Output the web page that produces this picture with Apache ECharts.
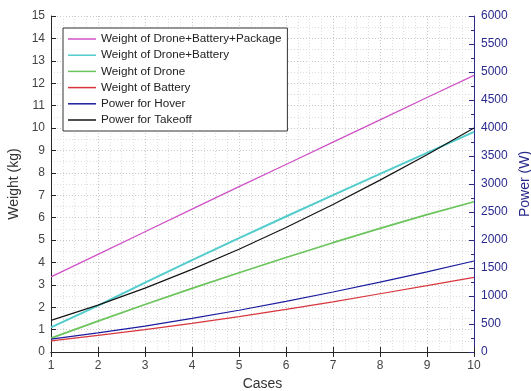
<!DOCTYPE html>
<html>
<head>
<meta charset="utf-8">
<script src="https://cdn.jsdelivr.net/npm/echarts@6/dist/echarts.min.js"></script>
<style>
  html, body { margin: 0; padding: 0; background: #fff; }
  #main { width: 531px; height: 391px; }
</style>
</head>
<body>
<div id="main"></div>
<script>
// x values (cases)
const cases = [1, 2, 3, 4, 5, 6, 7, 8, 9, 10];

// weights in kg (left axis)
const totalWeight = [3.35, 4.36, 5.37, 6.38, 7.38, 8.37, 9.37, 10.36, 11.36, 12.35];
const droneBatteryWeight = [1.1, 2.07, 3.1, 4.1, 5.08, 6.05, 7.0, 7.95, 8.89, 9.83];
const droneWeight = [0.62, 1.38, 2.12, 2.84, 3.54, 4.22, 4.88, 5.52, 6.13, 6.71];
const batteryWeight = [0.5, 0.74, 1.0, 1.28, 1.58, 1.9, 2.24, 2.6, 2.96, 3.33];

// power in W (right axis)
const hoverPower = [230, 340, 463, 599, 746, 903, 1071, 1247, 1432, 1625];
const takeoffPower = [565, 836, 1140, 1475, 1836, 2224, 2635, 3069, 3524, 4000];

const seriesNames = [
  'Weight of Drone+Battery+Package',
  'Weight of Drone+Battery',
  'Weight of Drone',
  'Weight of Battery',
  'Power for Hover',
  'Power for Takeoff'
];

var myChart = echarts.init(document.getElementById('main'));

const font = 'Liberation Sans, Arial, sans-serif';
const pairs = arr => cases.map((c, i) => [c, arr[i]]);

function line(name, data, color, width, axis) {
  return {
    name: name,
    type: 'line',
    yAxisIndex: axis,
    data: pairs(data),
    showSymbol: false,
    symbol: 'none',
    color: color,
    lineStyle: { color: color, width: width },
    emphasis: { disabled: true },
    z: 3
  };
}

myChart.setOption({
  animation: false,
  grid: { left: 51, right: 57, top: 16, bottom: 39, outerBoundsMode: 'none', containLabel: false },
  legend: {
    orient: 'vertical',
    left: 63,
    top: 28,
    padding: [4, 6, 4, 5],
    backgroundColor: '#fff',
    borderColor: '#333',
    borderWidth: 1,
    borderRadius: 0,
    icon: 'rect',
    itemWidth: 28,
    itemHeight: 1.5,
    itemGap: 2.2,
    textStyle: { fontFamily: font, fontSize: 11.7, color: '#222', lineHeight: 14 },
    data: seriesNames
  },
  xAxis: [{
    type: 'value',
    min: 1, max: 10, interval: 1,
    name: 'Cases',
    nameLocation: 'middle',
    nameGap: 21,
    nameTextStyle: { fontFamily: font, fontSize: 14, color: '#333' },
    axisLine: { show: true, lineStyle: { color: '#262626', width: 1 } },
    axisTick: { show: true, inside: true, length: 5, lineStyle: { color: '#262626' } },
    axisLabel: { fontFamily: font, fontSize: 12, color: '#444', margin: 8 },
    splitLine: { show: true, lineStyle: { color: '#c8c8c8', type: [1, 2] } },
    minorTick: { show: false, splitNumber: 4 },
    minorSplitLine: { show: true, lineStyle: { color: '#dedede', type: [1, 2] } }
  }, {
    type: 'value',
    position: 'top',
    min: 1, max: 10, interval: 1,
    axisLine: { show: true, lineStyle: { color: '#262626', width: 1 } },
    axisTick: { show: true, inside: true, length: 5, lineStyle: { color: '#262626' } },
    axisLabel: { show: false },
    splitLine: { show: false }
  }],
  yAxis: [{
    type: 'value',
    min: 0, max: 15, interval: 1,
    name: 'Weight (kg)',
    nameLocation: 'middle',
    nameGap: 27,
    nameRotate: 90,
    nameTextStyle: { fontFamily: font, fontSize: 14, color: '#333' },
    axisLine: { show: true, lineStyle: { color: '#262626', width: 1 } },
    axisTick: { show: true, inside: true, length: 5, lineStyle: { color: '#262626' } },
    axisLabel: { fontFamily: font, fontSize: 12, color: '#444', margin: 6 },
    splitLine: { show: true, lineStyle: { color: '#c8c8c8', type: [1, 2] } },
    minorTick: { show: false, splitNumber: 2 },
    minorSplitLine: { show: true, lineStyle: { color: '#dedede', type: [1, 2] } }
  }, {
    type: 'value',
    position: 'right',
    min: 0, max: 6000, interval: 500,
    name: 'Power (W)',
    nameLocation: 'middle',
    nameGap: 41,
    nameRotate: 90,
    nameTextStyle: { fontFamily: font, fontSize: 14, color: '#2a2a8c' },
    axisLine: { show: true, lineStyle: { color: '#2a2a8c', width: 1 } },
    axisTick: { show: true, inside: true, length: 5, lineStyle: { color: '#2a2a8c' } },
    minorTick: { show: true, splitNumber: 2, length: 3, lineStyle: { color: '#2a2a8c' } },
    axisLabel: { fontFamily: font, fontSize: 12, color: '#2a2a8c', margin: 7, formatter: v => String(v) },
    splitLine: { show: false }
  }],
  series: [
    line(seriesNames[0], totalWeight, '#cf52c6', 1.3, 0),
    line(seriesNames[1], droneBatteryWeight, '#52cccc', 2, 0),
    line(seriesNames[2], droneWeight, '#6cc45c', 1.7, 0),
    line(seriesNames[3], batteryWeight, '#d8363c', 1.2, 0),
    line(seriesNames[4], hoverPower, '#1c1ca0', 1.2, 1),
    line(seriesNames[5], takeoffPower, '#151515', 1.2, 1)
  ]
});
</script>
</body>
</html>
